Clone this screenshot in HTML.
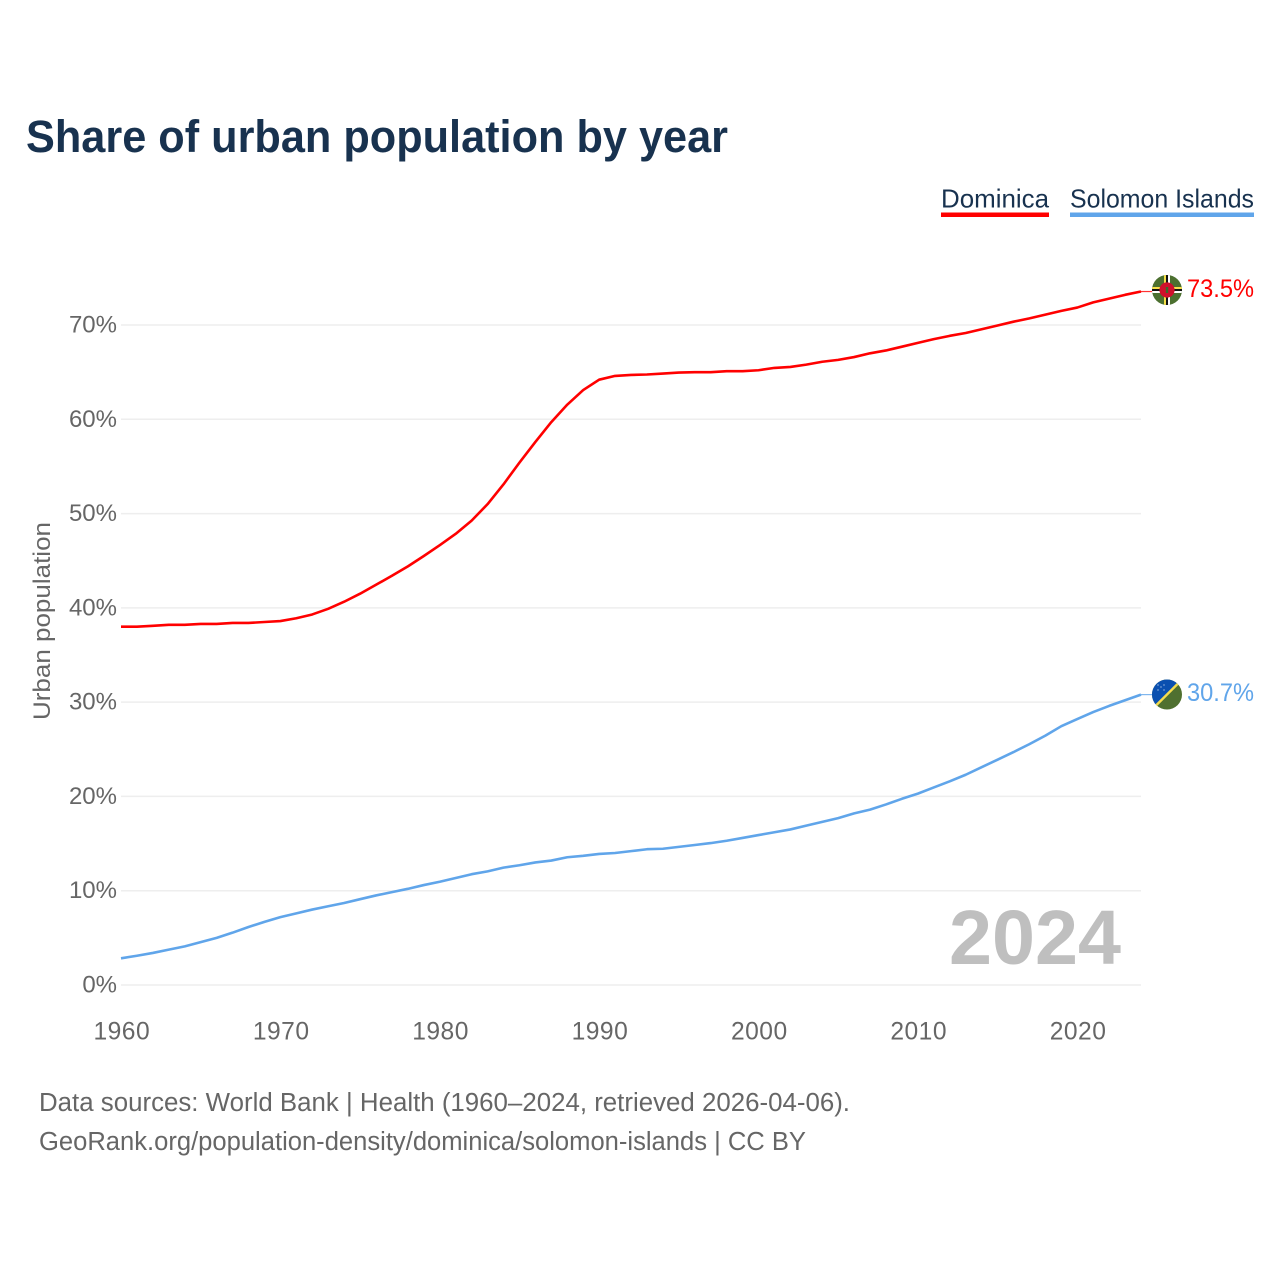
<!DOCTYPE html>
<html lang="en">
<head>
<meta charset="utf-8">
<title>Share of urban population by year</title>
<style>
html,body{margin:0;padding:0;background:#fff;}
svg{display:block;font-family:"Liberation Sans","DejaVu Sans",sans-serif;}
</style>
</head>
<body>
<svg id="chart" xmlns="http://www.w3.org/2000/svg" width="1280" height="1280" viewBox="0 0 1280 1280">
  <defs>
    <clipPath id="clip-dm"><circle cx="1167" cy="290" r="15"/></clipPath>
    <clipPath id="clip-sb"><circle cx="1167" cy="694.5" r="15"/></clipPath>
  </defs>
  <rect width="1280" height="1280" fill="#fff"/>
  <text x="26" y="152" font-size="45" font-weight="700" fill="#18324f" textLength="702" lengthAdjust="spacingAndGlyphs">Share of urban population by year</text>

  <g>
    <text x="941" y="207.5" font-size="26" fill="#18324f" textLength="108" lengthAdjust="spacingAndGlyphs">Dominica</text>
    <rect x="941" y="212.5" width="108" height="4.5" fill="#ff0000"/>
  </g>
  <g>
    <text x="1070" y="207.5" font-size="26" fill="#18324f" textLength="184" lengthAdjust="spacingAndGlyphs">Solomon Islands</text>
    <rect x="1070" y="212.5" width="184" height="4.5" fill="#60a5ea"/>
  </g>

  <text transform="translate(50,621) rotate(-90)" text-anchor="middle" font-size="24" fill="#666" textLength="198" lengthAdjust="spacingAndGlyphs">Urban population</text>

  <g id="grid"></g>
  <g id="ylabels"></g>
  <g id="xlabels"></g>
  <g id="series"></g>

  <text x="1121" y="964" text-anchor="end" font-size="77" font-weight="700" fill="#bfbfbf" textLength="172" lengthAdjust="spacingAndGlyphs">2024</text>

  <g clip-path="url(#clip-dm)">
    <rect x="1152" y="275" width="30" height="30" fill="#4c7030"/>
    <rect x="1152" y="287" width="30" height="2" fill="#f7e04a"/>
    <rect x="1152" y="289" width="30" height="2" fill="#111"/>
    <rect x="1152" y="291" width="30" height="2" fill="#fff"/>
    <rect x="1164" y="275" width="2" height="30" fill="#f7e04a"/>
    <rect x="1166" y="275" width="2" height="30" fill="#111"/>
    <rect x="1168" y="275" width="2" height="30" fill="#fff"/>
    <circle cx="1167" cy="290" r="7.6" fill="#d0102c"/>
    <rect x="1165.8" y="287" width="2.4" height="6" fill="#3b6b2c"/>
  </g>
  <g clip-path="url(#clip-sb)">
    <rect x="1152" y="679.5" width="30" height="30" fill="#4f7030"/>
    <polygon points="1152,679.5 1182,679.5 1152,709.5" fill="#0b50b0"/>
    <line x1="1152" y1="709.5" x2="1182" y2="679.5" stroke="#f4dc4e" stroke-width="2.4"/>
    <g fill="#dfe8f6">
      <circle cx="1158" cy="690" r="0.6"/><circle cx="1164" cy="690" r="0.6"/>
      <circle cx="1161" cy="687" r="0.6"/><circle cx="1158" cy="685" r="0.6"/><circle cx="1164" cy="685" r="0.6"/>
    </g>
  </g>
  <text x="1254" y="297" text-anchor="end" font-size="25" fill="#ff0000" textLength="67" lengthAdjust="spacingAndGlyphs">73.5%</text>
  <text x="1254" y="701" text-anchor="end" font-size="25" fill="#60a5ea" textLength="67" lengthAdjust="spacingAndGlyphs">30.7%</text>

  <text x="39" y="1111" font-size="25.5" fill="#666" textLength="811" lengthAdjust="spacingAndGlyphs">Data sources: World Bank | Health (1960–2024, retrieved 2026-04-06).</text>
  <text x="39" y="1150" font-size="25.5" fill="#666" textLength="767" lengthAdjust="spacingAndGlyphs">GeoRank.org/population-density/dominica/solomon-islands | CC BY</text>
</svg>
<script>
const startYear = 1960;
const yTickValues = [0, 10, 20, 30, 40, 50, 60, 70];
const xTickYears = [1960, 1970, 1980, 1990, 2000, 2010, 2020];
const dominicaValues = [38.0, 38.0, 38.1, 38.2, 38.2, 38.3, 38.3, 38.4, 38.4, 38.5,
  38.6, 38.9, 39.3, 39.9, 40.65, 41.5, 42.45, 43.4, 44.4, 45.5,
  46.65, 47.85, 49.25, 51.0, 53.1, 55.4, 57.6, 59.7, 61.55, 63.1,
  64.2, 64.6, 64.7, 64.75, 64.85, 64.95, 65.0, 65.0, 65.1, 65.1,
  65.2, 65.45, 65.55, 65.8, 66.1, 66.3, 66.6, 67.0, 67.3, 67.7,
  68.1, 68.5, 68.85, 69.15, 69.55, 69.95, 70.35, 70.7, 71.1, 71.5,
  71.85, 72.4, 72.8, 73.2, 73.55];
const solomonValues = [2.83, 3.1, 3.4, 3.75, 4.1, 4.55, 5.0, 5.55, 6.15, 6.7,
  7.2, 7.6, 8.0, 8.35, 8.7, 9.1, 9.5, 9.85, 10.2, 10.6,
  10.95, 11.35, 11.75, 12.05, 12.45, 12.7, 13.0, 13.2, 13.55, 13.7,
  13.9, 14.0, 14.2, 14.4, 14.45, 14.65, 14.85, 15.05, 15.3, 15.6,
  15.9, 16.2, 16.5, 16.9, 17.3, 17.7, 18.2, 18.6, 19.15, 19.75,
  20.3, 20.95, 21.6, 22.3, 23.1, 23.9, 24.7, 25.55, 26.45, 27.45,
  28.2, 28.95, 29.6, 30.2, 30.8];

const SVG_NS = 'http://www.w3.org/2000/svg';
function xScale(year) { return 121 + (year - 1960) * (1141 - 121) / 64; }
function yScale(value) { return 985 - value * (985 - 325) / 70; }

const grid = document.getElementById('grid');
const ylabels = document.getElementById('ylabels');
const xlabels = document.getElementById('xlabels');
const series = document.getElementById('series');

yTickValues.forEach(function (v) {
  const line = document.createElementNS(SVG_NS, 'line');
  
  
  line.setAttribute('x1', xScale(1960));
  line.setAttribute('x2', xScale(2024));
  line.setAttribute('y1', yScale(v));
  line.setAttribute('y2', yScale(v));
  line.setAttribute('stroke', '#eeeeee');
  line.setAttribute('stroke-width', '1.5');
  grid.appendChild(line);

  const label = document.createElementNS(SVG_NS, 'text');
  
  
  label.setAttribute('x', 117);
  label.setAttribute('y', yScale(v) + 7.5);
  label.setAttribute('text-anchor', 'end');
  label.setAttribute('font-size', '24');
  label.setAttribute('fill', '#666');
  label.textContent = v + '%';
  ylabels.appendChild(label);
});

xTickYears.forEach(function (yr) {
  const label = document.createElementNS(SVG_NS, 'text');
  
  
  label.setAttribute('x', xScale(yr) + 0.8);
  label.setAttribute('y', 1039.5);
  label.setAttribute('text-anchor', 'middle');
  label.setAttribute('font-size', '24.6');
  label.setAttribute('letter-spacing', '0.5');
  label.setAttribute('fill', '#666');
  label.textContent = String(yr);
  xlabels.appendChild(label);
});

function pointsFor(values) {
  return values.map(function (v, i) {
    return xScale(startYear + i).toFixed(2) + ',' + yScale(v).toFixed(2);
  }).join(' ');
}

const dominicaLine = document.createElementNS(SVG_NS, 'polyline');


dominicaLine.setAttribute('points', pointsFor(dominicaValues));
dominicaLine.setAttribute('fill', 'none');
dominicaLine.setAttribute('stroke', '#ff0000');
dominicaLine.setAttribute('stroke-width', '2.6');
dominicaLine.setAttribute('stroke-linejoin', 'round');
series.appendChild(dominicaLine);

const solomonLine = document.createElementNS(SVG_NS, 'polyline');


solomonLine.setAttribute('points', pointsFor(solomonValues));
solomonLine.setAttribute('fill', 'none');
solomonLine.setAttribute('stroke', '#60a5ea');
solomonLine.setAttribute('stroke-width', '2.6');
solomonLine.setAttribute('stroke-linejoin', 'round');
series.appendChild(solomonLine);

const dominicaLast = dominicaValues[dominicaValues.length - 1];
const dominicaConnector = document.createElementNS(SVG_NS, 'line');


dominicaConnector.setAttribute('x1', xScale(2024));
dominicaConnector.setAttribute('x2', 1153);
dominicaConnector.setAttribute('y1', yScale(dominicaLast));
dominicaConnector.setAttribute('y2', yScale(dominicaLast));
dominicaConnector.setAttribute('stroke', '#ff0000');
dominicaConnector.setAttribute('stroke-width', '1.2');
dominicaConnector.setAttribute('stroke-opacity', '0.8');
series.appendChild(dominicaConnector);

const solomonLast = solomonValues[solomonValues.length - 1];
const solomonConnector = document.createElementNS(SVG_NS, 'line');


solomonConnector.setAttribute('x1', xScale(2024));
solomonConnector.setAttribute('x2', 1153);
solomonConnector.setAttribute('y1', yScale(solomonLast));
solomonConnector.setAttribute('y2', yScale(solomonLast));
solomonConnector.setAttribute('stroke', '#60a5ea');
solomonConnector.setAttribute('stroke-width', '1.2');
solomonConnector.setAttribute('stroke-opacity', '0.8');
series.appendChild(solomonConnector);
</script>
</body>
</html>
